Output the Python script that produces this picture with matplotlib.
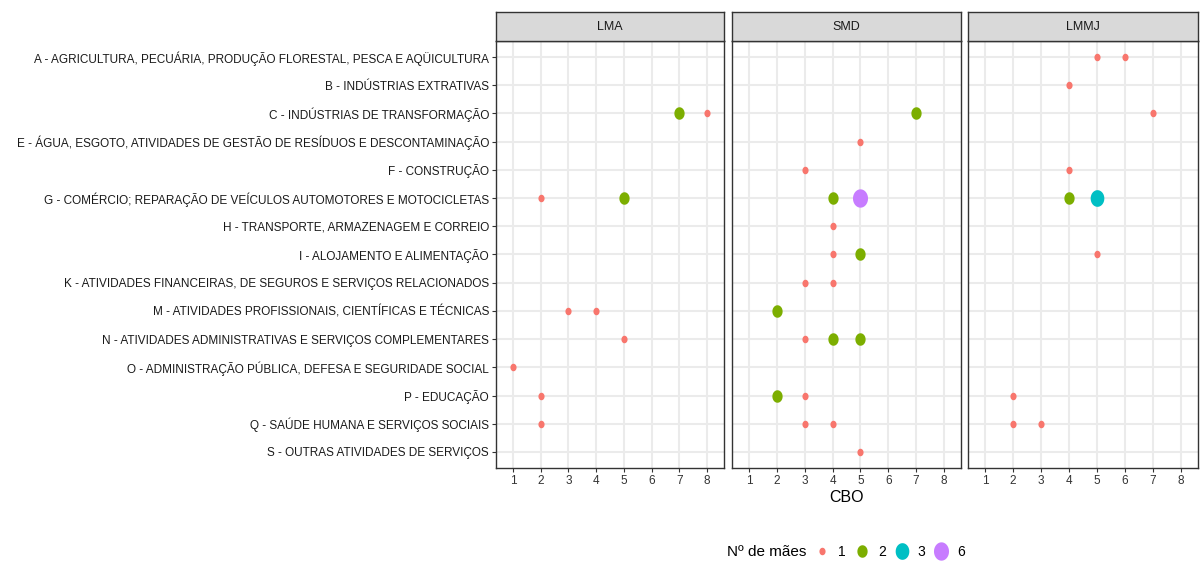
import matplotlib
matplotlib.use("Agg")
import matplotlib.pyplot as plt
import numpy as np
from matplotlib.path import Path
from matplotlib.lines import Line2D

plt.rcParams['font.family'] = ['Liberation Sans', 'DejaVu Sans']

atividades = [
    "A - AGRICULTURA, PECUÁRIA, PRODUÇÃO FLORESTAL, PESCA E AQÜICULTURA",
    "B - INDÚSTRIAS EXTRATIVAS",
    "C - INDÚSTRIAS DE TRANSFORMAÇÃO",
    "E - ÁGUA, ESGOTO, ATIVIDADES DE GESTÃO DE RESÍDUOS E DESCONTAMINAÇÃO",
    "F - CONSTRUÇÃO",
    "G - COMÉRCIO; REPARAÇÃO DE VEÍCULOS AUTOMOTORES E MOTOCICLETAS",
    "H - TRANSPORTE, ARMAZENAGEM E CORREIO",
    "I - ALOJAMENTO E ALIMENTAÇÃO",
    "K - ATIVIDADES FINANCEIRAS, DE SEGUROS E SERVIÇOS RELACIONADOS",
    "M - ATIVIDADES PROFISSIONAIS, CIENTÍFICAS E TÉCNICAS",
    "N - ATIVIDADES ADMINISTRATIVAS E SERVIÇOS COMPLEMENTARES",
    "O - ADMINISTRAÇÃO PÚBLICA, DEFESA E SEGURIDADE SOCIAL",
    "P - EDUCAÇÃO",
    "Q - SAÚDE HUMANA E SERVIÇOS SOCIAIS",
    "S - OUTRAS ATIVIDADES DE SERVIÇOS",
]

grupos = ["LMA", "SMD", "LMMJ"]

# (atividade, CBO, nº de mães) por grupo
lma_ativ = ["C", "C", "G", "G", "M", "M", "N", "O", "P", "Q"]
lma_cbo = [7, 8, 2, 5, 3, 4, 5, 1, 2, 2]
lma_n = [2, 1, 1, 2, 1, 1, 1, 1, 1, 1]

smd_ativ = ["C", "E", "F", "G", "G", "H", "I", "I", "K", "K", "M", "N", "N", "N", "P", "P", "Q", "Q", "S"]
smd_cbo = [7, 5, 3, 4, 5, 4, 4, 5, 3, 4, 2, 3, 4, 5, 2, 3, 3, 4, 5]
smd_n = [2, 1, 1, 2, 6, 1, 1, 2, 1, 1, 2, 1, 2, 2, 2, 1, 1, 1, 1]

lmmj_ativ = ["A", "A", "B", "C", "F", "G", "G", "I", "P", "Q", "Q"]
lmmj_cbo = [5, 6, 4, 7, 4, 4, 5, 5, 2, 2, 3]
lmmj_n = [1, 1, 1, 1, 1, 2, 3, 1, 1, 1, 1]

niveis_n = [1, 2, 3, 6]
cores_n = {1: "#F8766D", 2: "#7CAE00", 3: "#00BFC4", 6: "#C77CFF"}
tam_n = {1: 5.4, 2: 9.0, 3: 12.0, 6: 13.2}

dados = {
    "LMA": (lma_ativ, lma_cbo, lma_n),
    "SMD": (smd_ativ, smd_cbo, smd_n),
    "LMMJ": (lmmj_ativ, lmmj_cbo, lmmj_n),
}

# marcador levemente elíptico
t = np.linspace(0, 2 * np.pi, 60)
elipse = Path(np.column_stack([0.82 * np.cos(t), np.sin(t)]), closed=True)

letra_idx = {a.split(" - ")[0]: i for i, a in enumerate(atividades)}

W, H = 1200, 563
fig = plt.figure(figsize=(12, 5.63), dpi=100)
fig.patch.set_facecolor("white")

paineis = [(496, 724), (732, 961), (968, 1198)]
topo, base = 41, 468
strip_topo = 12

for k, (g, (x0, x1)) in enumerate(zip(grupos, paineis)):
    ax = fig.add_axes([x0 / W, 1 - base / H, (x1 - x0) / W, (base - topo) / H])
    ativ, cbo, n = dados[g]
    ys = [letra_idx[a] for a in ativ]
    for xi, yi, ni in zip(cbo, ys, n):
        ax.plot(xi, yi, linestyle="none", marker=elipse, markersize=tam_n[ni],
                color=cores_n[ni], markeredgewidth=0, zorder=3)
    ax.set_xlim(0.39, 8.61)
    ax.set_ylim(len(atividades) - 0.43, -0.57)
    ax.set_xticks(range(1, 9))
    ax.set_yticks(range(len(atividades)))
    ax.grid(True, color="#EBEBEB", linewidth=1.5, zorder=0)
    ax.set_axisbelow(True)
    for s in ax.spines.values():
        s.set_color("#333333")
        s.set_linewidth(1.0)
    ax.tick_params(axis="both", length=3, width=0.8, color="#333333",
                   labelsize=8.5, labelcolor="#1A1A1A", pad=2)
    ax.tick_params(axis="x", labelsize=8.5, labelcolor="#333333")
    if k == 0:
        ax.set_yticklabels(atividades)
    else:
        ax.set_yticklabels([])
        ax.tick_params(axis="y", length=0)

    # faixa com o nome do grupo
    sx = fig.add_axes([x0 / W, 1 - topo / H, (x1 - x0) / W, (topo - strip_topo) / H])
    sx.set_facecolor("#D9D9D9")
    sx.set_xticks([])
    sx.set_yticks([])
    for s in sx.spines.values():
        s.set_color("#333333")
        s.set_linewidth(1.0)
    sx.text(0.5, 0.5, g, ha="center", va="center", fontsize=9, color="#1A1A1A",
            transform=sx.transAxes)

fig.text(846 / W, 1 - 497 / H, "CBO", ha="center", va="center", fontsize=11.5, color="black")

# legenda do tamanho/cor
handles = [Line2D([], [], linestyle="none", marker=elipse, markersize=tam_n[v],
                  color=cores_n[v], markeredgewidth=0) for v in niveis_n]
fig.text(727 / W, 1 - 552 / H, "Nº de mães", ha="left", va="center", fontsize=11, color="black")
fig.legend(handles, [str(v) for v in niveis_n], loc="center left",
           bbox_to_anchor=(814 / W, 1 - 552 / H), ncol=4, frameon=False,
           fontsize=10, handletextpad=0.55, columnspacing=0.55, handlelength=1.2,
           borderpad=0, borderaxespad=0)

fig.savefig("out.png", dpi=100, facecolor="white")
